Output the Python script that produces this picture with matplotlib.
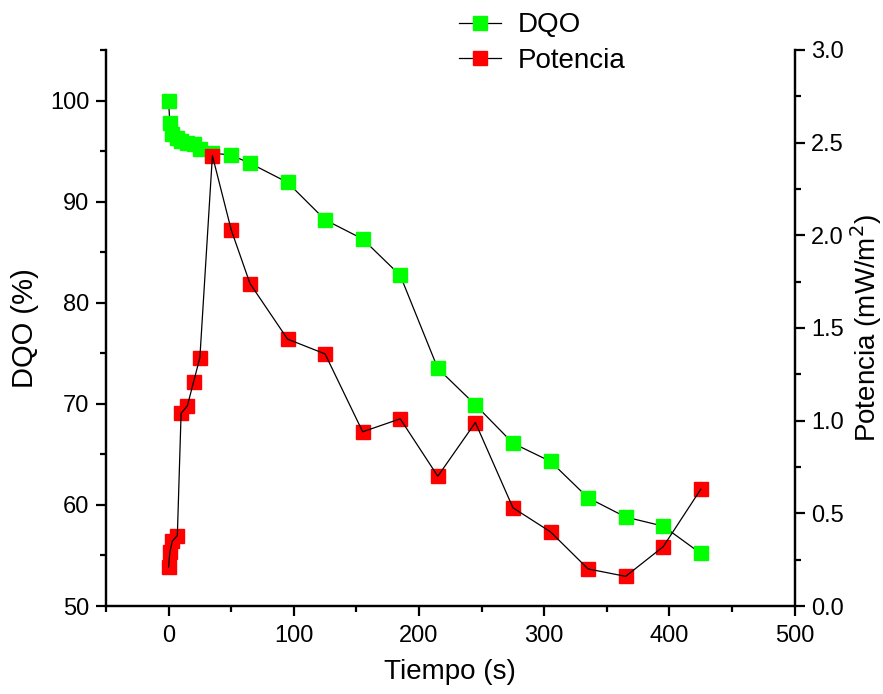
import matplotlib
matplotlib.use("Agg")
import matplotlib.pyplot as plt
from matplotlib.ticker import MultipleLocator, FormatStrFormatter
from matplotlib.lines import Line2D

plt.rcParams['font.family'] = ['Liberation Sans', 'DejaVu Sans']

tiempo = [0, 1, 3, 7, 10, 15, 20, 25, 35, 50, 65, 95, 125, 155, 185, 215,
          245, 275, 305, 335, 365, 395, 425]
dqo = [100, 97.8, 96.7, 96.3, 96.0, 95.8, 95.7, 95.2, 94.8, 94.6, 93.8, 91.9,
       88.2, 86.3, 82.7, 73.5, 69.9, 66.1, 64.3, 60.7, 58.8, 57.9, 55.2]
potencia = [0.21, 0.29, 0.35, 0.38, 1.04, 1.08, 1.21, 1.34, 2.43, 2.03, 1.74,
            1.44, 1.36, 0.94, 1.01, 0.70, 0.99, 0.53, 0.40, 0.20, 0.16, 0.32, 0.63]

fig = plt.figure(figsize=(8.83, 6.94), dpi=100)
ax = fig.add_axes([0.120, 0.1268, 0.780, 0.8012])
ax2 = ax.twinx()

ms = 9.4
green = '#00FF00'
red = '#FF0000'

ax.plot(tiempo, dqo, color='black', lw=0.9, zorder=2)
ax.plot(tiempo, dqo, ls='none', marker='s', ms=ms, color=green, mec=green, zorder=3)

ax2.plot(tiempo, potencia, ls='none', marker='s', ms=ms, color=red, mec=red, zorder=2)
ax2.plot(tiempo, potencia, color='black', lw=0.9, zorder=3)

ax.set_xlim(-50, 500)
ax.set_ylim(50, 105)
ax2.set_ylim(0, 3.0)

for a in (ax, ax2):
    a.spines['top'].set_visible(False)
    for s in ('left', 'right', 'bottom'):
        a.spines[s].set_linewidth(1.6)

ax.xaxis.set_major_locator(MultipleLocator(100))
ax.xaxis.set_minor_locator(MultipleLocator(50))
ax.yaxis.set_major_locator(MultipleLocator(10))
ax.yaxis.set_minor_locator(MultipleLocator(5))
ax2.yaxis.set_major_locator(MultipleLocator(0.5))
ax2.yaxis.set_minor_locator(MultipleLocator(0.25))
ax2.yaxis.set_major_formatter(FormatStrFormatter('%.1f'))

ax.tick_params(axis='x', which='major', direction='out', length=7, width=1.6,
               labelsize=17, pad=7)
ax.tick_params(axis='y', which='major', direction='out', length=7, width=1.6,
               labelsize=17, pad=5)
ax.tick_params(axis='both', which='minor', direction='out', length=4, width=1.6)
ax2.tick_params(axis='y', which='major', direction='out', length=7, width=1.6,
                labelsize=17, pad=5)
ax2.tick_params(axis='y', which='minor', direction='out', length=4, width=1.6)

ax.set_xlabel('Tiempo (s)', fontsize=20, labelpad=8)
ax.set_ylabel('DQO (%)', fontsize=21, labelpad=8)
ax2.set_ylabel('Potencia (mW/m$^2$)', fontsize=20, labelpad=3)

handles = [
    Line2D([], [], color='black', lw=0.9, marker='s', ms=ms, mfc=green, mec=green),
    Line2D([], [], color='black', lw=0.9, marker='s', ms=ms, mfc=red, mec=red),
]
fig.legend(handles, ['DQO', 'Potencia'], loc='upper left',
           bbox_to_anchor=(0.520, 0.982), frameon=False, fontsize=20,
           handlelength=1.5, handletextpad=0.6, labelspacing=0.35,
           borderpad=0, borderaxespad=0)

fig.savefig('out.png', dpi=100)
